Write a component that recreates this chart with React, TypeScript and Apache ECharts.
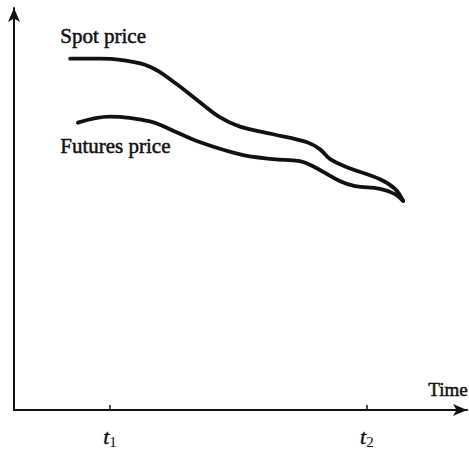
import React, { useEffect, useRef } from "react";
import * as echarts from "echarts";

const spotX = [12.4, 19.0, 23.4, 30.0, 35.5, 41.1, 45.5, 49.9, 57.2, 64.7, 67.5, 69.8, 73.5, 80.8, 84.1, 85.9];
const spotY = [87.4, 87.4, 87.1, 85.4, 81.4, 76.5, 72.8, 70.5, 68.6, 66.6, 64.9, 62.4, 60.4, 57.4, 55.0, 52.0];
const futX = [14.1, 21.2, 30.0, 35.5, 41.1, 49.9, 57.2, 63.1, 66.4, 72.0, 75.3, 80.8, 84.1, 85.9];
const futY = [71.5, 73.0, 71.8, 69.3, 66.6, 63.6, 62.4, 61.9, 60.4, 56.9, 55.7, 55.0, 53.7, 52.0];
const tickValues = [21.2, 77.9];
const tickLabels = ["1", "2"];
const seriesNames = ["Spot price", "Futures price"];
const axisName = "Time";

export default function App() {
  const ref = useRef<HTMLDivElement>(null);
  useEffect(() => {
    if (!ref.current) return;
    const chart = echarts.init(ref.current, null, { renderer: "svg" });
    const font = "'Liberation Serif', 'Times New Roman', serif";
    const txt = { fill: "#111", stroke: "#111", lineWidth: 0.5 };
    chart.setOption({
      animation: false,
      backgroundColor: "#ffffff",
      grid: { left: 14, right: 2, top: 8, bottom: 37 },
      xAxis: {
        type: "value",
        min: 0,
        max: 100,
        splitLine: { show: false },
        axisLine: {
          lineStyle: { color: "#111", width: 2 },
          symbol: ["none", "arrow"],
          symbolSize: [9, 14],
        },
        axisTick: {
          show: true,
          inside: true,
          length: 5,
          lineStyle: { color: "#111", width: 1.5 },
          customValues: tickValues,
        },
        axisLabel: {
          show: true,
          margin: 14,
          customValues: tickValues,
          formatter: (v: number) => {
            const i = tickValues.indexOf(v);
            return i >= 0 ? `{t|t}{s|${tickLabels[i]}}` : "";
          },
          rich: {
            t: { fontFamily: font, fontStyle: "italic", fontSize: 22, color: "#111", textBorderColor: "#111", textBorderWidth: 0.4 },
            s: { fontFamily: font, fontSize: 15, color: "#111", padding: [10, 0, 0, 0] },
          },
        },
      },
      yAxis: {
        type: "value",
        min: 0,
        max: 100,
        splitLine: { show: false },
        axisLabel: { show: false },
        axisTick: { show: false },
        axisLine: {
          show: true,
          lineStyle: { color: "#111", width: 2 },
          symbol: ["none", "arrow"],
          symbolSize: [9, 14],
        },
      },
      graphic: [
        { type: "text", left: 60, top: 25, style: { text: seriesNames[0], font: `21px ${font}`, ...txt } },
        { type: "text", left: 60, top: 135, style: { text: seriesNames[1], font: `21px ${font}`, ...txt } },
        { type: "text", left: 428, top: 380, style: { text: axisName, font: `19px ${font}`, ...txt } },
      ],
      series: [
        {
          name: seriesNames[0],
          type: "line",
          smooth: 0.4,
          showSymbol: false,
          data: spotX.map((x, i) => [x, spotY[i]]),
          lineStyle: { color: "#111", width: 3.8, cap: "round" },
        },
        {
          name: seriesNames[1],
          type: "line",
          smooth: 0.4,
          showSymbol: false,
          data: futX.map((x, i) => [x, futY[i]]),
          lineStyle: { color: "#111", width: 3.8, cap: "round" },
        },
      ],
    });
    return () => chart.dispose();
  }, []);
  return (
    <div
      ref={ref}
      style={{ position: "fixed", left: 0, top: 0, width: 469, height: 449 }}
    />
  );
}
